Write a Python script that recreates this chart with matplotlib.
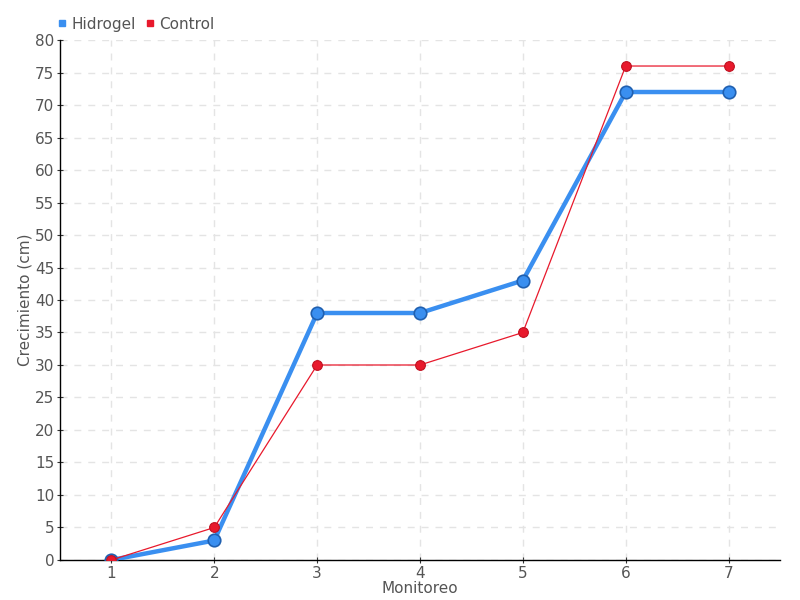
import matplotlib
matplotlib.use("Agg")
import matplotlib.pyplot as plt
from matplotlib.lines import Line2D

plt.rcParams['font.family'] = ['Liberation Sans Narrow', 'DejaVu Sans']

categories = ["1", "2", "3", "4", "5", "6", "7"]
hidrogel = [0, 3, 38, 38, 43, 72, 72]
control = [0, 5, 30, 30, 35, 76, 76]

fig = plt.figure(figsize=(8, 6), dpi=100)
ax = fig.add_axes([0.075, 0.0667, 0.9, 0.8666])
x = list(range(1, len(categories) + 1))

ax.plot(x, hidrogel, color='#3a8ff0', lw=3.2, marker='o', ms=9,
        markerfacecolor='#3a8ff0', markeredgecolor='#2060b0', markeredgewidth=1.2, zorder=3)
ax.plot(x, control, color='#e8192c', lw=0.9, marker='o', ms=7,
        markerfacecolor='#e8192c', markeredgecolor='#c01020', markeredgewidth=0.8, zorder=4)

ax.set_xlim(0.5, 7.5)
ax.set_ylim(0, 80)
ax.set_xticks(x)
ax.set_xticklabels(categories)
ax.set_yticks(range(0, 81, 5))
ax.grid(True, color='#e4e4e4', linestyle=(0, (5, 5)), lw=1)
ax.set_axisbelow(True)
for s in ['top', 'right']:
    ax.spines[s].set_visible(False)
for s in ['left', 'bottom']:
    ax.spines[s].set_color('#000000')
    ax.spines[s].set_linewidth(1)
ax.tick_params(colors='#333333', labelcolor='#555555', labelsize=11, length=4, direction='inout', pad=2)
ax.set_xlabel('Monitoreo', color='#555555', fontsize=11, labelpad=0)
ax.set_ylabel('Crecimiento (cm)', color='#555555', fontsize=11, labelpad=2)

handles = [Line2D([], [], marker='s', color='none', markerfacecolor='#3a8ff0', markeredgecolor='#3a8ff0', ms=5),
           Line2D([], [], marker='s', color='none', markerfacecolor='#e8192c', markeredgecolor='#e8192c', ms=5)]
fig.legend(handles, ['Hidrogel', 'Control'], loc='upper left', bbox_to_anchor=(0.055, 0.995),
           ncol=2, frameon=False, fontsize=11, handlelength=0.6, handletextpad=0.3,
           columnspacing=0.6, labelcolor='#555555')

fig.savefig('out.png', dpi=100)
